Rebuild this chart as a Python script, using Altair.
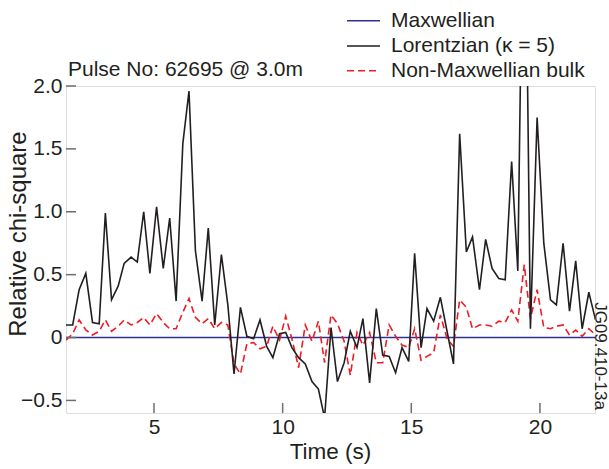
import altair as alt
import pandas as pd

# ---- data ----
times = [1.58, 1.84, 2.09, 2.35, 2.61, 2.87, 3.11, 3.35, 3.61, 3.84, 4.11, 4.35, 4.60, 4.84,
         5.10, 5.36, 5.61, 5.86, 6.12, 6.36, 6.61, 6.87, 7.11, 7.36, 7.62, 7.87, 8.11, 8.36,
         8.61, 8.87, 9.12, 9.38, 9.62, 9.88, 10.12, 10.36, 10.62, 10.88, 11.14, 11.39, 11.63,
         11.88, 12.13, 12.39, 12.63, 12.89, 13.12, 13.38, 13.64, 13.89, 14.14, 14.39, 14.64,
         14.90, 15.13, 15.38, 15.61, 15.87, 16.13, 16.39, 16.64, 16.88, 17.14, 17.38, 17.65,
         17.89, 18.14, 18.40, 18.65, 18.90, 19.14, 19.39, 19.63, 19.89, 20.15, 20.41, 20.64,
         20.90, 21.15, 21.39, 21.64, 21.90, 22.16]

lorentzian = [0.10, 0.10, 0.38, 0.51, 0.12, 0.11, 0.99, 0.30, 0.41, 0.59, 0.64, 0.60, 1.00, 0.51,
              1.04, 0.55, 0.95, 0.29, 1.54, 1.96, 0.69, 0.29, 0.87, 0.10, 0.66, 0.26, -0.29, 0.24,
              0.01, -0.01, 0.14, -0.07, -0.16, 0.03, 0.04, -0.08, -0.16, -0.21, -0.35, -0.41, -0.64,
              0.08, -0.35, -0.20, 0.05, -0.08, 0.15, -0.36, 0.23, -0.14, -0.15, -0.28, -0.08,
              -0.19, 0.67, -0.08, 0.23, 0.13, 0.32, 0.05, -0.21, 1.62, 0.68, 0.80, 0.38,
              0.78, 0.55, 0.47, 0.46, 1.40, 0.53, 4.30, 0.07, 1.75, 0.75, 0.30, 0.26,
              0.75, 0.21, 0.61, 0.07, 0.36, 0.14]

non_maxwellian = [-0.02, 0.03, 0.14, 0.06, 0.02, 0.05, 0.14, 0.05, 0.09, 0.14, 0.10, 0.12, 0.16, 0.10,
                  0.19, 0.12, 0.07, 0.07, 0.20, 0.31, 0.16, 0.11, 0.15, 0.07, 0.12, 0.10, -0.21, -0.29,
                  -0.05, -0.04, -0.09, -0.07, 0.09, -0.02, 0.17, -0.01, -0.24, 0.10, -0.03, 0.13, -0.20,
                  0.18, 0.11, -0.03, -0.30, 0.04, -0.06, 0.04, -0.20, -0.20, 0.10, 0.01, -0.06,
                  -0.08, 0.07, -0.18, -0.15, -0.12, 0.18, -0.01, -0.07, 0.30, 0.24, 0.07, 0.10,
                  0.10, 0.09, 0.13, 0.12, 0.22, 0.13, 0.58, 0.15, 0.38, 0.08, 0.07, 0.09,
                  0.10, 0.02, 0.06, 0.01, 0.07, 0.02]

maxwell_t = [1.58, 22.16]
maxwellian = [0.0, 0.0]

x_ticks = [5, 10, 15, 20]
y_ticks = [-0.5, 0, 0.5, 1.0, 1.5, 2.0]

series_names = ["Maxwellian", "Lorentzian (\u03ba = 5)", "Non-Maxwellian bulk"]
series_colors = ["#2e3192", "#231f20", "#ed1c24"]
title_text = "Pulse No: 62695 @ 3.0m"
x_title = "Time (s)"
y_title = "Relative chi-square"
tag_text = "JG09.410-13a"

FONT = "Liberation Sans"
FS = 21
W, H = 529, 327
GRAY = "#6d6e71"
TXT = "#231f20"

df = pd.DataFrame({"t": times, "lor": lorentzian, "nm": non_maxwellian})
dmax = pd.DataFrame({"t": maxwell_t, "v": maxwellian})

xscale = alt.Scale(domain=[1.58, 22.14], nice=False, zero=False)
yscale = alt.Scale(domain=[-0.6, 2.0], nice=False, zero=False)

xaxis = alt.Axis(values=x_ticks, ticks=False, domain=False, grid=False, title=None,
                 labelFont=FONT, labelFontSize=FS, labelColor=TXT, labelPadding=3,
                 format="d")
yaxis = alt.Axis(values=y_ticks, ticks=False, domain=False, grid=False, title=None,
                 labelFont=FONT, labelFontSize=FS, labelColor=TXT, labelPadding=4,
                 labelExpr="datum.value == 0 ? '0' : format(datum.value, '.1f')")

base = alt.Chart(df)

lor_line = base.mark_line(color=series_colors[1], strokeWidth=1.6, clip=True).encode(
    x=alt.X("t:Q", scale=xscale, axis=xaxis),
    y=alt.Y("lor:Q", scale=yscale, axis=yaxis),
)
nm_line = base.mark_line(color=series_colors[2], strokeWidth=1.6, strokeDash=[7, 4], clip=True).encode(
    x=alt.X("t:Q", scale=xscale, axis=xaxis),
    y=alt.Y("nm:Q", scale=yscale, axis=yaxis),
)
max_line = alt.Chart(dmax).mark_line(color=series_colors[0], strokeWidth=1.4, clip=True).encode(
    x=alt.X("t:Q", scale=xscale, axis=xaxis),
    y=alt.Y("v:Q", scale=yscale, axis=yaxis),
)

xt = alt.Chart(pd.DataFrame({"v": x_ticks})).mark_rule(color=GRAY, strokeWidth=1.5).encode(
    x=alt.X("v:Q", scale=xscale, axis=xaxis), y=alt.value(H), y2=alt.value(H - 10))
yt = alt.Chart(pd.DataFrame({"v": y_ticks})).mark_rule(color=GRAY, strokeWidth=1.5).encode(
    y=alt.Y("v:Q", scale=yscale, axis=yaxis), x=alt.value(0), x2=alt.value(10))

def label(txt, x, y, fs=FS, **kw):
    return alt.Chart(pd.DataFrame({"s": [txt]})).mark_text(
        font=FONT, fontSize=fs, color=TXT, baseline="middle", **kw
    ).encode(text="s:N", x=alt.value(x), y=alt.value(y))

title = label(title_text, 2, -16, align="left")
xlab = label(x_title, 264.5, 366, fs=22.5, align="center")
ylab = label(y_title, -47, 148, fs=24, align="center", angle=270)
tag = label(tag_text, 534, 270, fs=17, align="center", angle=90)

legend_rows = [-65.3, -40, -15.3]
legend_layers = []
for i, (name, col) in enumerate(zip(series_names, series_colors)):
    dash = [7, 4] if i == 2 else [1, 0]
    legend_layers.append(
        alt.Chart(pd.DataFrame({"s": [name]})).mark_rule(color=col, strokeWidth=1.5, strokeDash=dash).encode(
            x=alt.value(281), x2=alt.value(314), y=alt.value(legend_rows[i]))
    )
    legend_layers.append(label(name, 325, legend_rows[i], align="left"))

chart = alt.layer(
    max_line, nm_line, lor_line, xt, yt, title, xlab, ylab, tag, *legend_layers
).properties(
    width=W, height=H,
    autosize=alt.AutoSizeParams(type="none"),
    padding={"left": 66, "top": 86, "right": 14, "bottom": 56},
).configure_view(stroke=GRAY, strokeWidth=1.5).configure(background="white")

chart.save("out.html", embed_options={"renderer": "svg", "actions": False})
